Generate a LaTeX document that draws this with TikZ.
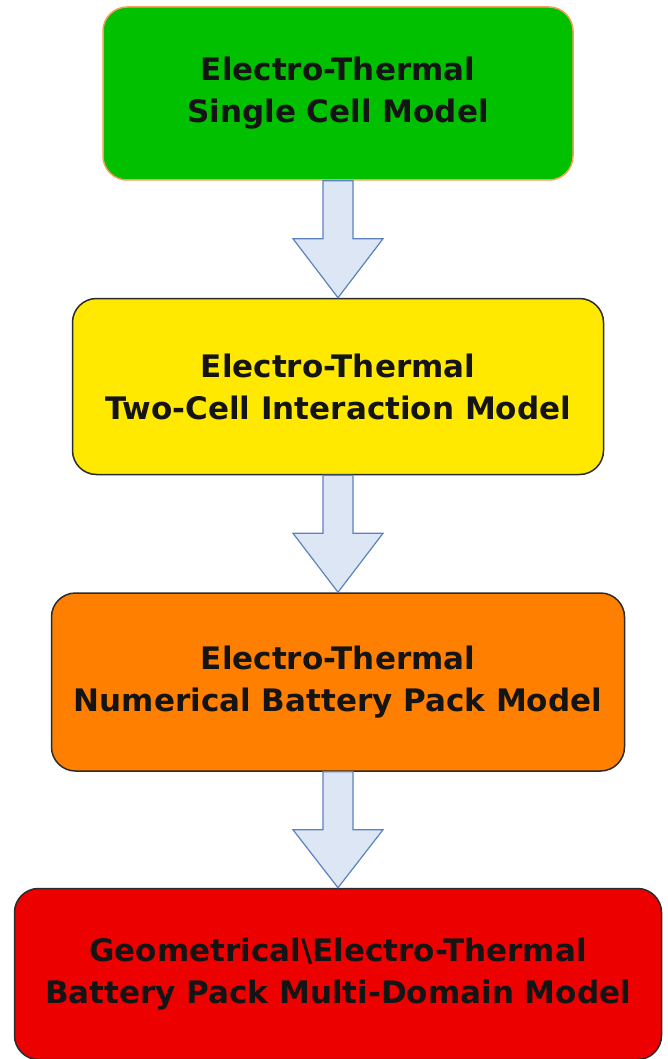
\documentclass[tikz,border=0pt]{standalone}
\usepackage{fontspec}
\setmainfont{DejaVu Sans}
\usepackage{xcolor}
\usetikzlibrary{positioning, calc}
\definecolor{cellgreen}{HTML}{00C000}
\definecolor{cellborder}{HTML}{F5A05A}
\definecolor{pairyellow}{HTML}{FFE900}
\definecolor{packorange}{HTML}{FF8000}
\definecolor{domainred}{HTML}{EC0000}
\definecolor{stageline}{HTML}{2B2B2B}
\definecolor{stagetext}{HTML}{141414}
\definecolor{flowfill}{HTML}{DCE6F4}
\definecolor{flowline}{HTML}{5B82BE}
% block arrow from the bottom of one stage to the top of the next
\newcommand{\stagearrow}[2]{%
  \draw[flow] ($(#1.south)+(-15,0)$) -- ($(#1.south)+(-15,-58)$)
    -- ($(#1.south)+(-45,-58)$) -- (#2.north) -- ($(#1.south)+(45,-58)$)
    -- ($(#1.south)+(15,-58)$) -- ($(#1.south)+(15,0)$) -- cycle;}

\begin{document}
\begin{tikzpicture}[x=1pt,y=1pt,
  font=\fontsize{31}{42}\selectfont\bfseries,
  stage/.style={draw=stageline, line width=1.5pt, rounded corners=24pt,
    align=center, text=stagetext, inner sep=0pt},
  flow/.style={draw=flowline, fill=flowfill, line width=1.2pt}]
\useasboundingbox (0,0) rectangle (667,-1059);

\node[stage, fill=cellgreen, draw=cellborder, minimum width=470pt, minimum height=173pt]
  (single) at (338,-93.5) {Electro-Thermal\\Single Cell Model};
\node[stage, fill=pairyellow, minimum width=531pt, minimum height=176pt,
  below=117pt of single] (twocell) {Electro-Thermal\\Two-Cell Interaction Model};
\node[stage, fill=packorange, minimum width=573pt, minimum height=178pt,
  below=117pt of twocell] (pack) {Electro-Thermal\\Numerical Battery Pack Model};
\node[stage, fill=domainred, minimum width=647pt, minimum height=171pt,
  below=116pt of pack] (domain) {Geometrical\textbackslash Electro-Thermal\\Battery Pack Multi-Domain Model};

\stagearrow{single}{twocell}
\stagearrow{twocell}{pack}
\stagearrow{pack}{domain}

\end{tikzpicture}
\end{document}
